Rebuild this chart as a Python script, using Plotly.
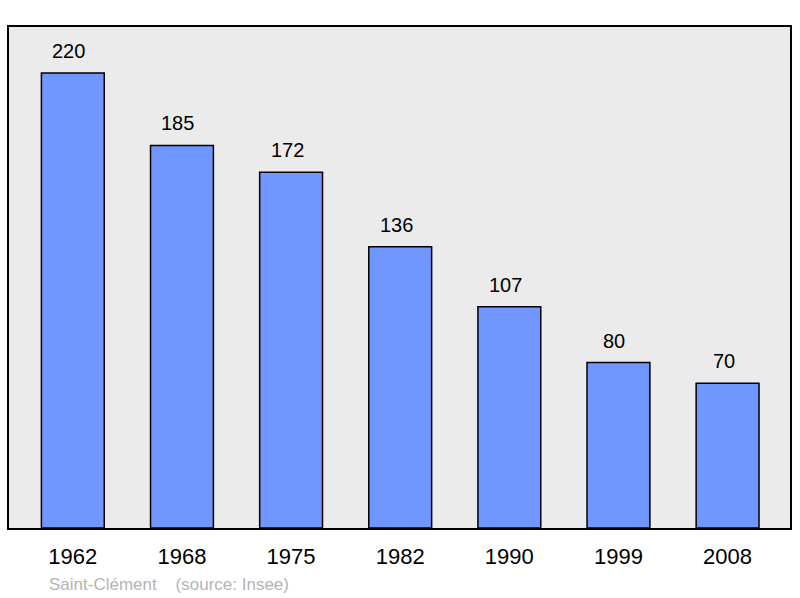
import plotly.graph_objects as go

years = ["1962", "1968", "1975", "1982", "1990", "1999", "2008"]
population = [220, 185, 172, 136, 107, 80, 70]
caption = "Saint-Clément    (source: Insee)"

fig = go.Figure()
fig.add_trace(go.Bar(
    x=list(range(len(years))), y=population,
    width=0.576,
    marker=dict(color="#7097ff", line=dict(color="#000000", width=1.5)),
    hoverinfo="skip",
))
for i, v in enumerate(population):
    fig.add_annotation(x=i, y=v, text=str(v), showarrow=False, yanchor="middle",
                       yshift=22, xshift=-4, font=dict(size=20, color="#000000"))

fig.add_annotation(xref="paper", yref="paper", x=(47 - 9) / 783, y=-(584 - 528) / 501,
                   xanchor="left", yanchor="middle", text=caption.replace(" ", "&nbsp;"),
                   showarrow=False, font=dict(size=17, color="#b4b4b4"))

fig.update_layout(
    width=800, height=598,
    margin=dict(l=9, r=8, t=27, b=70),
    paper_bgcolor="#ffffff", plot_bgcolor="#ebebeb",
    font=dict(family="Liberation Sans, Arial, sans-serif", color="#000000"),
    showlegend=False,
    xaxis=dict(range=[-0.585, 6.572], tickmode="array", tickvals=list(range(len(years))),
               ticktext=years, tickfont=dict(size=22), ticks="", showgrid=False,
               zeroline=False, showline=True, linecolor="#000000", linewidth=2,
               mirror=True, ticklabelstandoff=8, fixedrange=True),
    yaxis=dict(range=[0, 242.3], showticklabels=False, ticks="", showgrid=False,
               zeroline=False, showline=True, linecolor="#000000", linewidth=2,
               mirror=True, fixedrange=True),
)
fig.write_html("out.html", config={"displayModeBar": False},
               post_script="document.body.style.margin='0';document.body.style.overflow='hidden';")
